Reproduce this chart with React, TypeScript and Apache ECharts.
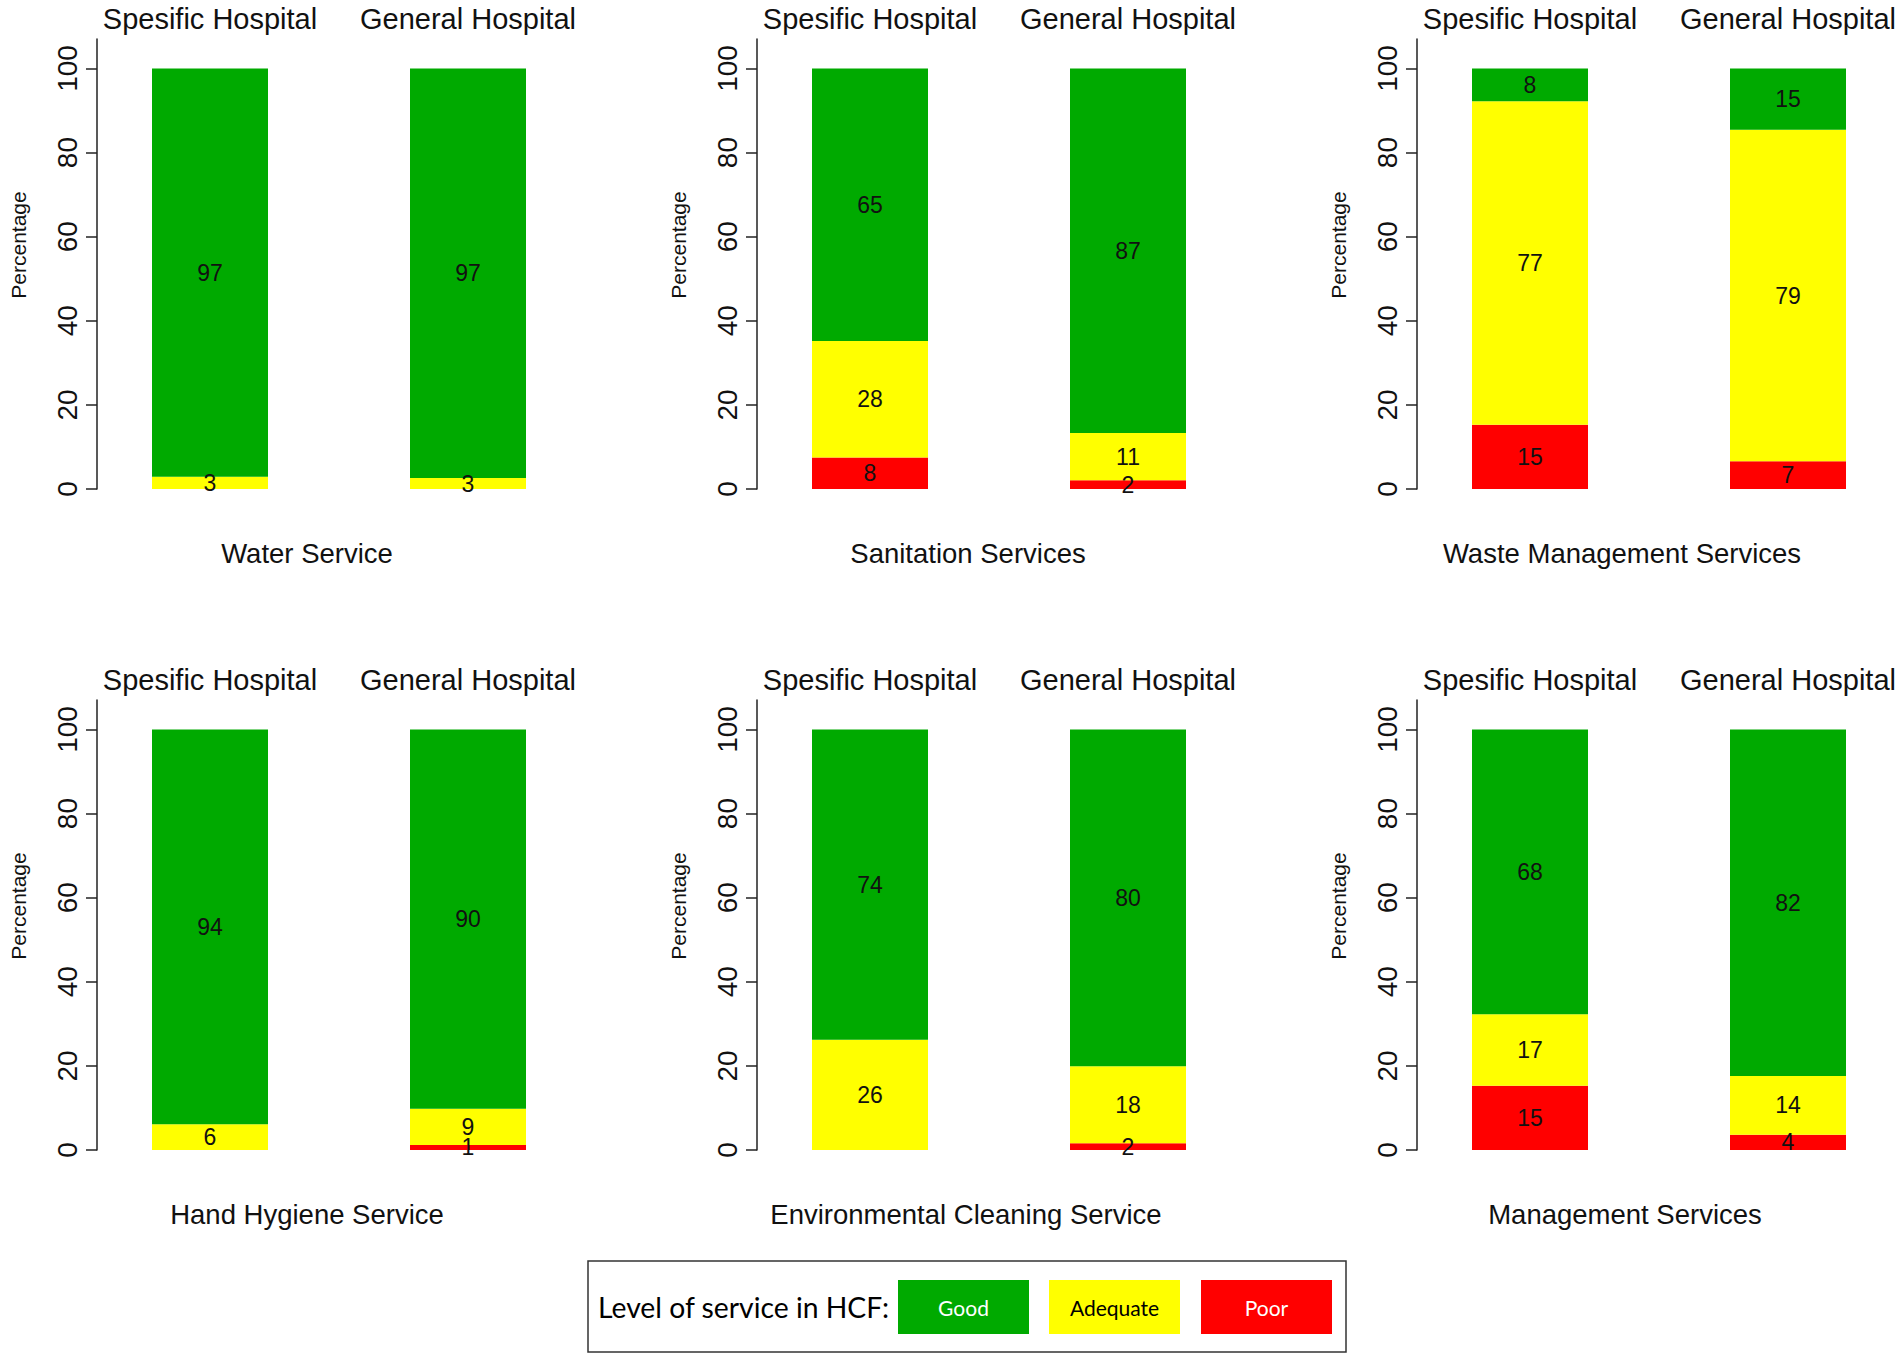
import React, { useEffect, useRef } from "react";
import * as echarts from "echarts";

const hospitals = ["Spesific Hospital", "General Hospital"];
const panelTitles = [
  "Water Service",
  "Sanitation Services",
  "Waste Management Services",
  "Hand Hygiene Service",
  "Environmental Cleaning Service",
  "Management Services",
];
// [Spesific, General] per panel (segment heights in %)
const poorValues = [
  [0, 0],
  [7.5, 2.1],
  [15.3, 6.6],
  [0, 1.2],
  [0, 1.6],
  [15.3, 3.6],
];
const adequateValues = [
  [2.9, 2.6],
  [27.7, 11.2],
  [76.9, 78.8],
  [6.1, 8.6],
  [26.2, 18.3],
  [17.0, 14.0],
];
const goodValues = [
  [97.1, 97.4],
  [64.8, 86.7],
  [7.8, 14.6],
  [93.9, 90.2],
  [73.8, 80.1],
  [67.7, 82.4],
];
const yTicks = [0, 20, 40, 60, 80, 100];
const levelNames = ["Good", "Adequate", "Poor"];
const levelColors = { Good: "#00AA00", Adequate: "#FFFF00", Poor: "#FF0000" };

const FONT = "'Liberation Sans', Arial, sans-serif";
const LFONT = "Lato, 'Open Sans', sans-serif";

export default function App() {
  const ref = useRef<HTMLDivElement>(null);
  useEffect(() => {
    if (!ref.current) return;
    const chart = echarts.init(ref.current, undefined, { renderer: "svg" });
    const colLeft = [81, 741, 1401];
    const rowTop = [39, 700];
    const titleX = [[307, 968, 1622], [307, 966, 1625]];
    const titleY = [553, 1214];
    const grids: any[] = [];
    const xAxes: any[] = [];
    const yAxes: any[] = [];
    const series: any[] = [];
    const graphics: any[] = [];
    for (let p = 0; p < 6; p++) {
      const r = Math.floor(p / 3);
      const c = p % 3;
      grids.push({ left: colLeft[c], top: rowTop[r], width: 516, height: 450 });
      xAxes.push({
        type: "category",
        gridIndex: p,
        position: "top",
        data: hospitals,
        axisLine: { show: false },
        axisTick: { show: false },
        axisLabel: { interval: 0, fontSize: 29, color: "#111", margin: 6, fontFamily: FONT },
      });
      yAxes.push({
        type: "value",
        gridIndex: p,
        min: 0,
        max: 107,
        interval: 20,
        offset: -16,
        splitLine: { show: false },
        axisLine: { show: true, lineStyle: { color: "#222", width: 1.5 } },
        axisTick: { show: true, length: 11, customValues: yTicks, lineStyle: { color: "#222", width: 1.5 } },
        axisLabel: {
          rotate: 90,
          fontSize: 28,
          color: "#111",
          margin: 16,
          fontFamily: FONT,
          customValues: yTicks,
        },
      });
      const segs: [string, number[][]][] = [
        ["Poor", poorValues],
        ["Adequate", adequateValues],
        ["Good", goodValues],
      ];
      segs.forEach(([name, vals]) => {
        series.push({
          type: "bar",
          name,
          xAxisIndex: p,
          yAxisIndex: p,
          stack: "s" + p,
          barWidth: 116,
          data: vals[p],
          itemStyle: { color: (levelColors as any)[name] },
          label: {
            show: true,
            position: "inside",
            color: "#111",
            fontSize: 23,
            fontFamily: FONT,
            formatter: (d: any) => (d.value > 0 ? String(Math.round(d.value)) : ""),
          },
        });
      });
      graphics.push({
        type: "text",
        x: titleX[r][c],
        y: titleY[r],
        style: {
          text: panelTitles[p],
          fontSize: 27.5,
          fontFamily: FONT,
          fill: "#111",
          align: "center",
          verticalAlign: "middle",
        },
      });
      graphics.push({
        type: "text",
        x: 18 + c * 660,
        y: 245 + r * 661,
        rotation: Math.PI / 2,
        style: {
          text: "Percentage",
          fontSize: 21,
          fontFamily: FONT,
          fill: "#111",
          align: "center",
          verticalAlign: "middle",
        },
      });
    }
    // legend box
    graphics.push({
      type: "rect",
      shape: { x: 588, y: 1261, width: 758, height: 91 },
      style: { fill: "#fff", stroke: "#333", lineWidth: 1.5 },
    });
    graphics.push({
      type: "text",
      x: 598,
      y: 1307,
      style: {
        text: "Level of service in HCF:",
        fontSize: 28.3,
        fontFamily: LFONT,
        fill: "#000",
        align: "left",
        verticalAlign: "middle",
      },
    });
    const boxX = [898, 1049, 1201];
    levelNames.forEach((n, i) => {
      graphics.push({
        type: "rect",
        shape: { x: boxX[i], y: 1280, width: 131, height: 54 },
        style: { fill: (levelColors as any)[n] },
      });
      graphics.push({
        type: "text",
        x: boxX[i] + 65.5,
        y: 1307,
        style: {
          text: n,
          fontSize: 21,
          fontFamily: LFONT,
          fill: n === "Adequate" ? "#000" : "#fff",
          align: "center",
          verticalAlign: "middle",
        },
      });
    });
    chart.setOption({
      animation: false,
      backgroundColor: "#fff",
      grid: grids,
      xAxis: xAxes,
      yAxis: yAxes,
      series,
      graphic: graphics,
    });
    return () => chart.dispose();
  }, []);
  return (
    <div
      ref={ref}
      style={{ position: "fixed", left: 0, top: 0, width: 1940, height: 1360, background: "#fff" }}
    />
  );
}
